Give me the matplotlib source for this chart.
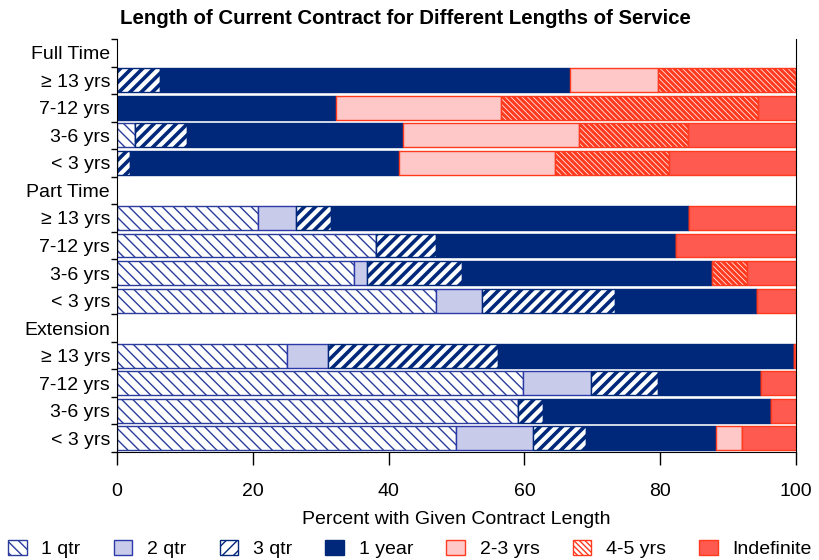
import matplotlib.pyplot as plt
import numpy as np

plt.rcParams['font.family'] = ['Liberation Sans', 'DejaVu Sans']

groups = ['Full Time', 'Part Time', 'Extension']
service = ['≥ 13 yrs', '7-12 yrs', '3-6 yrs', '< 3 yrs']
contracts = ['1 qtr', '2 qtr', '3 qtr', '1 year', '2-3 yrs', '4-5 yrs', 'Indefinite']

# percent per row: Full Time (≥13, 7-12, 3-6, <3), Part Time (...), Extension (...)
qtr1 = [0, 0, 2.65, 0, 20.8, 38.1, 34.9, 47.0, 25.0, 59.8, 59.1, 49.9]
qtr2 = [0, 0, 0, 0, 5.5, 0, 1.9, 6.8, 6.1, 10.0, 0, 11.4]
qtr3 = [6.3, 0, 7.7, 1.9, 5.2, 8.9, 14.0, 19.5, 25.0, 9.9, 3.7, 7.8]
year1 = [60.4, 32.3, 31.8, 39.7, 52.7, 35.3, 36.8, 21.0, 43.6, 15.2, 33.5, 19.1]
yrs23 = [13.0, 24.3, 25.9, 22.9, 0, 0, 0, 0, 0, 0, 0, 3.8]
yrs45 = [20.3, 37.8, 16.1, 16.8, 0, 0, 5.2, 0, 0, 0, 0, 0]
indef = [0, 5.6, 15.9, 18.7, 15.8, 17.7, 7.2, 5.7, 0.3, 5.1, 3.7, 8.0]

series = [qtr1, qtr2, qtr3, year1, yrs23, yrs45, indef]

navy = '#00287a'
blue = '#2a3d9c'
red = '#ff3a1e'
styles = {
    '1 qtr': dict(fc='white', ec=blue, hatch='\\\\\\', hlw=1.0),
    '2 qtr': dict(fc='#c9cbea', ec='#2b3aa8', hatch=None, hlw=1.0),
    '3 qtr': dict(fc='white', ec=navy, hatch='///', hlw=2.6),
    '1 year': dict(fc=navy, ec=navy, hatch=None, hlw=1.0),
    '2-3 yrs': dict(fc='#ffc8c8', ec=red, hatch=None, hlw=1.0),
    '4-5 yrs': dict(fc='white', ec=red, hatch='\\\\\\\\\\\\', hlw=2.3),
    'Indefinite': dict(fc='#ff5a50', ec=red, hatch=None, hlw=1.0),
}

# row positions: header row then 4 service rows per group
labels = []
bar_pos = []
for g, name in enumerate(groups):
    labels.append(name)
    for k, s in enumerate(service):
        labels.append(s)
        bar_pos.append(g * 5 + 1 + k)
bar_pos = np.array(bar_pos)

fig = plt.figure(figsize=(8.2, 5.6), dpi=100)
ax = fig.add_axes([117 / 820, 1 - 452 / 560, (796 - 117) / 820, (452 - 39) / 560])

left = np.zeros(len(bar_pos))
handles = []
for name, vals in zip(contracts, series):
    st = styles[name]
    vals = np.array(vals)
    with plt.rc_context({'hatch.linewidth': st['hlw']}):
        bars = ax.barh(bar_pos, vals, left=left, height=0.87, color=st['fc'],
                       edgecolor=st['ec'], hatch=st['hatch'], linewidth=1.0)
        for b in bars:
            if hasattr(b, 'set_hatch_linewidth'):
                b.set_hatch_linewidth(st['hlw'])
    handles.append(bars[0])
    left += vals

ax.set_xlim(0, 100)
ax.set_ylim(14.5, -0.5)
ax.set_yticks(np.arange(15))
ax.set_yticklabels(labels)
ax.set_yticks(np.arange(-0.5, 15, 1), minor=True)
ax.tick_params(axis='y', which='major', length=0, pad=5, labelsize=14)
ax.tick_params(axis='y', which='minor', length=4, width=1, direction='out')
ax.set_xticks([0, 20, 40, 60, 80, 100])
ax.tick_params(axis='x', length=9.5, width=1, pad=13, labelsize=14)
ax.spines['top'].set_visible(False)
ax.set_xlabel('Percent with Given Contract Length', fontsize=14, labelpad=8)

fig.text(0.494, 1 - 19 / 560, 'Length of Current Contract for Different Lengths of Service',
         ha='center', va='center', fontsize=14.7, fontweight='bold')

fig.legend(handles, contracts, loc='center', bbox_to_anchor=(0.5, 1 - 549 / 560),
           ncol=7, frameon=False, fontsize=14, handlelength=0.95, handleheight=0.8,
           handletextpad=0.75, columnspacing=1.72, borderaxespad=0, borderpad=0)

fig.savefig('out.png', dpi=100)
